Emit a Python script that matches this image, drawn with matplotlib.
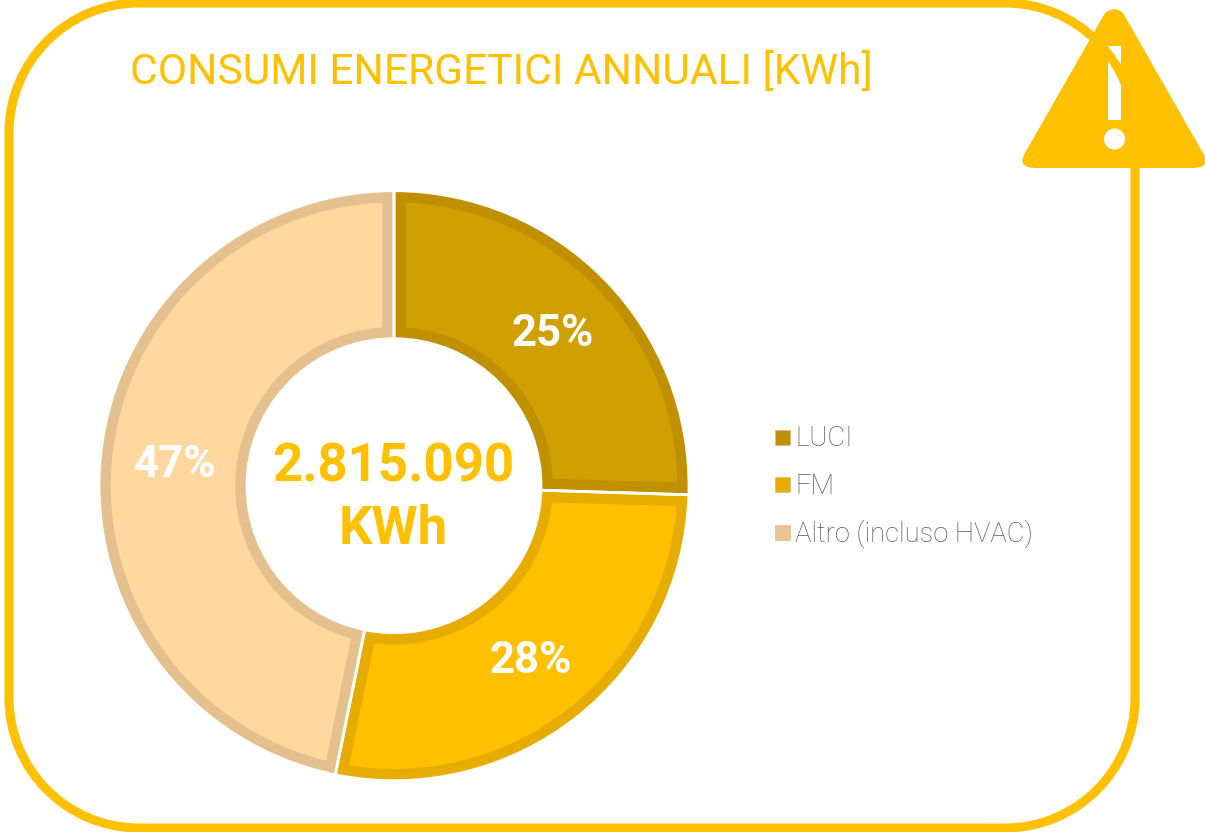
import matplotlib
matplotlib.use("Agg")
import matplotlib.pyplot as plt
from matplotlib.patches import Rectangle, Circle, PathPatch
from matplotlib.path import Path

plt.rcParams['font.family'] = ['Roboto', 'DejaVu Sans']

categories = ["LUCI", "FM", "Altro (incluso HVAC)"]
values = [25.49, 27.7, 46.81]
pct_labels = ["25%", "28%", "47%"]
fills = ["#D09F00", "#FFC000", "#FFD79F"]
borders = ["#BF9000", "#E6AD00", "#E5C08F"]
legend_colors = ["#BF9000", "#E6AD00", "#E8C491"]
title = "CONSUMI ENERGETICI ANNUALI [KWh]"
center_lines = ["2.815.090", "KWh"]

W, H = 1205, 832
YEL = "#FFC000"
fig = plt.figure(figsize=(W / 100, H / 100), dpi=100, facecolor="white")

# Pixel-coordinate canvas
bg = fig.add_axes([0, 0, 1, 1], zorder=1)
bg.set_xlim(0, W)
bg.set_ylim(H, 0)
bg.axis("off")

def frame():
    x0, y0, x1, y1, a = 9, 3, 1135, 828, 130
    k = a * (1 - 0.5523)
    verts = [(x0 + a, y0), (x1 - a, y0),
             (x1 - k, y0), (x1, y0 + k), (x1, y0 + a),
             (x1, y1 - a),
             (x1, y1 - k), (x1 - k, y1), (x1 - a, y1),
             (x0 + a, y1),
             (x0 + k, y1), (x0, y1 - k), (x0, y1 - a),
             (x0, y0 + a),
             (x0, y0 + k), (x0 + k, y0), (x0 + a, y0)]
    codes = [Path.MOVETO, Path.LINETO,
             Path.CURVE4, Path.CURVE4, Path.CURVE4,
             Path.LINETO,
             Path.CURVE4, Path.CURVE4, Path.CURVE4,
             Path.LINETO,
             Path.CURVE4, Path.CURVE4, Path.CURVE4,
             Path.LINETO,
             Path.CURVE4, Path.CURVE4, Path.CURVE4]
    return PathPatch(Path(verts, codes), fc="none", ec=YEL, lw=6.5)

bg.add_patch(frame())

# Doughnut
cx, cy, R, r = 394, 485.7, 295, 147
span = R * 1.25
pie_ax = fig.add_axes([(cx - span) / W, 1 - (cy + span) / H, 2 * span / W, 2 * span / H], zorder=2)
pie_ax.patch.set_alpha(0)
wedges, _ = pie_ax.pie(values, startangle=90, counterclock=False, radius=1,
                       colors=fills, wedgeprops=dict(width=1 - r / R, lw=0))
pie_ax.set_xlim(-1.25, 1.25)
pie_ax.set_ylim(-1.25, 1.25)
for w, b in zip(wedges, borders):
    w.set_edgecolor(b)
    w.set_linewidth(17)          # half is clipped away: inner stroke
    w.set_clip_on(True)
    w.set_clip_path(w.get_path(), w.get_transform())
sep, _ = pie_ax.pie(values, startangle=90, counterclock=False, radius=1,
                    colors=["none"] * 3,
                    wedgeprops=dict(width=1 - r / R, lw=2.0, edgecolor="white"))
pie_ax.set_xlim(-1.25, 1.25)
pie_ax.set_ylim(-1.25, 1.25)

# Overlay
top = fig.add_axes([0, 0, 1, 1], zorder=3)
top.set_xlim(0, W)
top.set_ylim(H, 0)
top.axis("off")
top.patch.set_alpha(0)

for txt, (x, y) in zip(pct_labels, [(553, 334), (531, 661), (175, 465)]):
    top.text(x, y, txt, color="white", fontsize=31.5, fontweight="bold", ha="center", va="center")

top.text(393, 467, center_lines[0], color=YEL, fontsize=38, fontweight="bold", ha="center", va="center")
top.text(393, 529, center_lines[1], color=YEL, fontsize=38, fontweight="bold", ha="center", va="center")

top.text(130, 72, title, color=YEL, fontsize=30.6, fontweight="normal", ha="left", va="center")

for name, c, y in zip(categories, legend_colors, [438, 485, 533]):
    top.add_patch(Rectangle((775, y - 8), 15, 15, fc=c, ec="#C8B890", lw=0.4))
    top.text(795, y + 1, name, color="#595959", fontsize=19.7, fontweight="light", ha="left", va="center")

# Warning triangle
verts = [(1105, 13), (1114, 5), (1123, 13), (1203, 153), (1211.6, 168), (1192, 168),
         (1036, 168), (1016.4, 168), (1025, 153), (1105, 13)]
codes = [Path.MOVETO, Path.CURVE3, Path.CURVE3, Path.LINETO, Path.CURVE3, Path.CURVE3,
         Path.LINETO, Path.CURVE3, Path.CURVE3, Path.LINETO]
top.add_patch(PathPatch(Path(verts, codes), fc=YEL, ec="none"))
bar = Rectangle((1108, 46), 13, 74, fc="white", ec="none")
top.add_patch(bar)
top.add_patch(Circle((1114.5, 139), 10.5, fc="white", ec="none"))
arc = frame()
top.add_patch(arc)
arc.set_clip_path(bar)

fig.savefig("out.png", dpi=100, facecolor="white")
